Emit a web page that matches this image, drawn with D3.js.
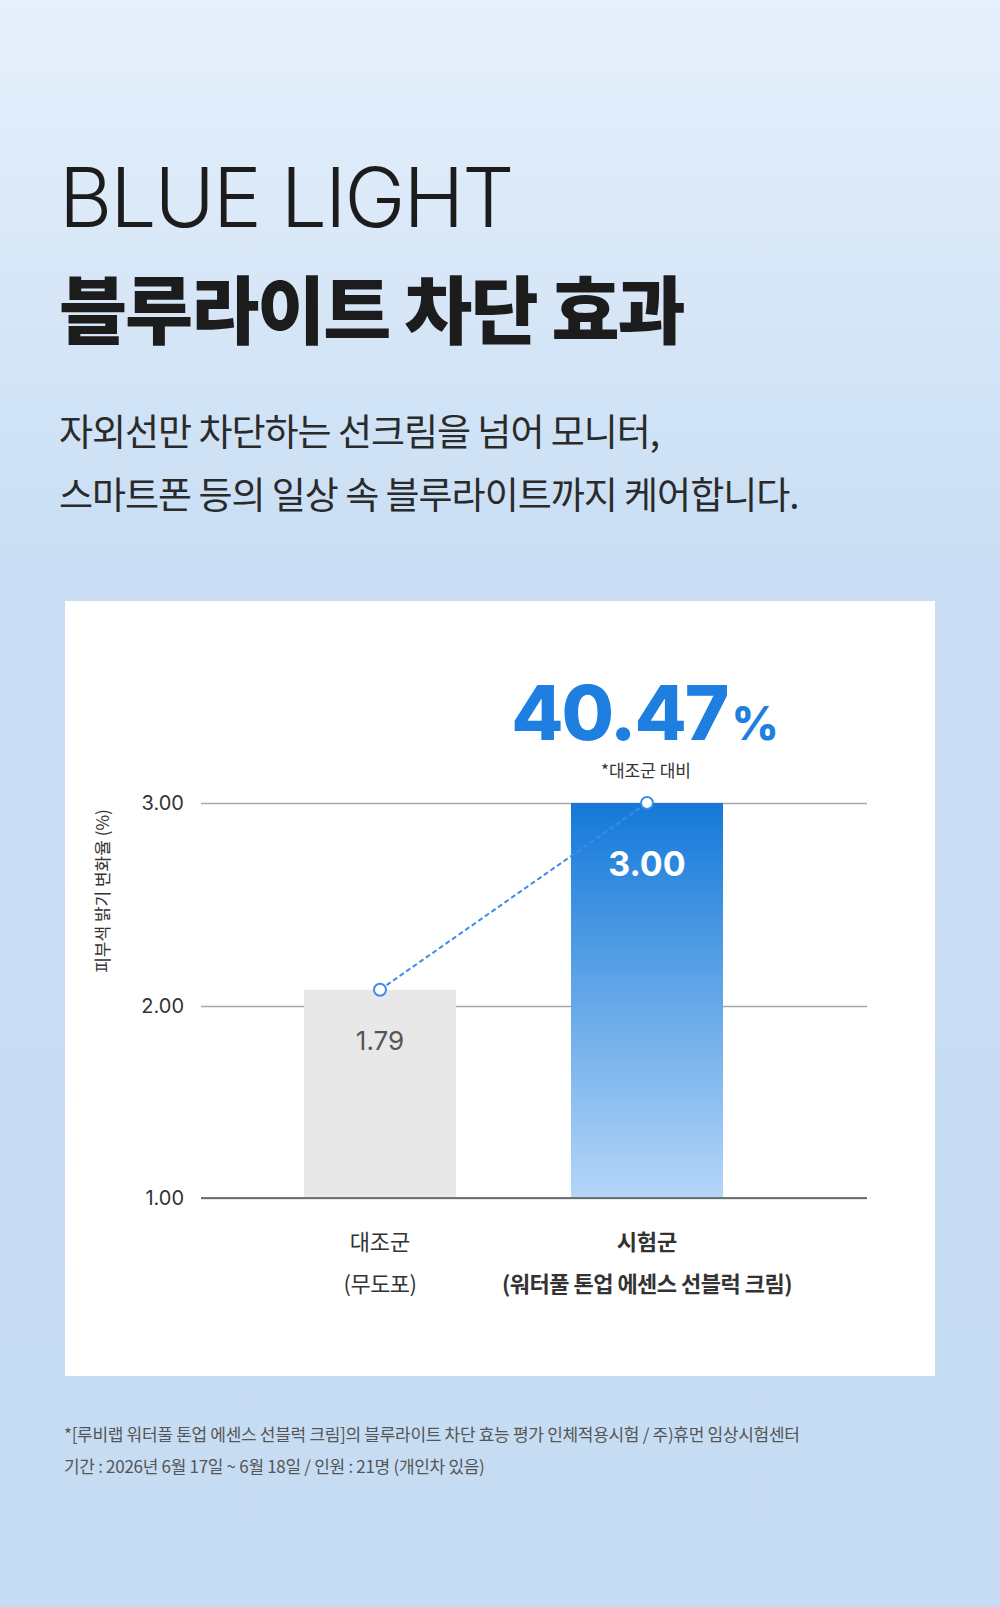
<!DOCTYPE html>
<html><head><meta charset="utf-8">
<script src="https://cdn.jsdelivr.net/npm/d3@7"></script>
<style>body{margin:0;font-family:"Noto Sans CJK KR","Noto Sans",sans-serif;}</style>
</head><body>
<svg id="plotarea"></svg>
<script>
// data
var groups = ["대조군", "시험군"];
var subLabels = ["(무도포)", "(워터풀 톤업 에센스 선블럭 크림)"];
var valueLabels = ["1.79", "3.00"];
var barLevels = [2.08, 3.00];   // bar top as drawn against the axis
var ticks = [1, 2, 3];
var tickY = [1198, 1006, 803];   // axis spacing in the original is uneven

var W = 1000, H = 1607;
var svg = d3.select("#plotarea").attr("width", W).attr("height", H);
var defs = svg.append("defs");
var bg = defs.append("linearGradient").attr("id", "bg").attr("x1", 0).attr("y1", 0).attr("x2", 0).attr("y2", 1);
bg.append("stop").attr("offset", "0").attr("stop-color", "#e6f0fb");
bg.append("stop").attr("offset", "0.35").attr("stop-color", "#c9def4");
bg.append("stop").attr("offset", "1").attr("stop-color", "#c6dcf3");
var bg2 = defs.append("linearGradient").attr("id", "bar").attr("x1", 0).attr("y1", 0).attr("x2", 0).attr("y2", 1);
bg2.append("stop").attr("offset", "0").attr("stop-color", "#1479d9");
bg2.append("stop").attr("offset", "1").attr("stop-color", "#b5d6f8");

svg.append("rect").attr("width", W).attr("height", H).attr("fill", "url(#bg)");

svg.append("text").attr("x", 59).attr("y", 227).attr("font-family", "Inter, sans-serif")
  .attr("font-weight", 300).attr("font-size", 82).attr("fill", "#1c1c1c").attr("letter-spacing", -2).text("BLUE LIGHT");
svg.append("text").attr("x", 59).attr("y", 338).attr("font-weight", 800).attr("font-size", 74)
  .attr("fill", "#1c1c1c").attr("letter-spacing", -2).text("블루라이트 차단 효과");
svg.append("text").attr("x", 59).attr("y", 446).attr("font-size", 37).attr("fill", "#2a2a2a").attr("letter-spacing", -1)
  .text("자외선만 차단하는 선크림을 넘어 모니터,");
svg.append("text").attr("x", 59).attr("y", 509).attr("font-size", 37).attr("fill", "#2a2a2a").attr("letter-spacing", -1)
  .text("스마트폰 등의 일상 속 블루라이트까지 케어합니다.");

svg.append("rect").attr("x", 65).attr("y", 601).attr("width", 870).attr("height", 775).attr("fill", "#fff");

var y = d3.scaleLinear().domain(ticks).range(tickY);
var x = d3.scaleBand().domain(groups).range([245, 782]).paddingInner(0.75).paddingOuter(0);
// band width ~152
x = d3.scaleBand().domain(groups).range([304, 722]).paddingInner(115 / 418 * 2 / (1 + 115 / 418 * 0)).paddingOuter(0);
x = d3.scaleBand().domain(groups).range([304, 722]).paddingInner(0.75);

var axis = d3.axisLeft(y).tickValues(ticks).tickFormat(d3.format(".2f")).tickSize(-666).tickPadding(17);
var ga = svg.append("g").attr("transform", "translate(201,0)").call(axis);
ga.select(".domain").remove();
ga.selectAll(".tick line").attr("stroke", "#a8a8a8").attr("stroke-width", 1.5);
ga.selectAll(".tick text").attr("font-size", 20).attr("fill", "#333").attr("font-family", "Inter, sans-serif");

svg.append("text").attr("transform", "translate(109,891) rotate(-90)").attr("text-anchor", "middle")
  .attr("font-size", 17).attr("fill", "#333").text("피부색 밝기 변화율 (%)");

var bw = 152;
var cx = function(i){ return i === 0 ? 380 : 647; };
svg.selectAll("rect.bar").data(barLevels).enter().append("rect").attr("class", "bar")
  .attr("x", function(d, i){ return cx(i) - bw / 2; }).attr("width", bw)
  .attr("y", function(d){ return y(d); }).attr("height", function(d){ return y(1) - y(d); })
  .attr("fill", function(d, i){ return i === 0 ? "#e8e8e8" : "url(#bar)"; });
// redraw baseline over bars
svg.append("line").attr("x1", 201).attr("x2", 867).attr("y1", y(1)).attr("y2", y(1)).attr("stroke", "#555").attr("stroke-width", 1.5);

svg.selectAll("text.val").data(valueLabels).enter().append("text")
  .attr("x", function(d, i){ return cx(i); })
  .attr("y", function(d, i){ return y(barLevels[i]) + (i === 0 ? 60 : 73); })
  .attr("text-anchor", "middle").attr("font-family", "Inter, sans-serif")
  .attr("font-size", function(d, i){ return i === 0 ? 26 : 34; })
  .attr("font-weight", function(d, i){ return i === 0 ? 400 : 700; })
  .attr("fill", function(d, i){ return i === 0 ? "#555" : "#fff"; }).text(function(d){ return d; });

svg.append("line").attr("x1", cx(0)).attr("y1", y(barLevels[0])).attr("x2", cx(1)).attr("y2", y(barLevels[1]))
  .attr("stroke", "#3a8de6").attr("stroke-width", 2).attr("stroke-dasharray", "5,3");
svg.selectAll("circle.pt").data(barLevels).enter().append("circle")
  .attr("cx", function(d, i){ return cx(i); }).attr("cy", function(d){ return y(d); }).attr("r", 6)
  .attr("fill", "#fff").attr("stroke", "#3a8de6").attr("stroke-width", 2);

var big = svg.append("text").attr("x", 645).attr("y", 740).attr("text-anchor", "middle")
  .attr("font-family", "Inter, sans-serif").attr("font-weight", 800).attr("fill", "#1e7fe0");
big.append("tspan").attr("font-size", 76).attr("letter-spacing", -2).text("40.47");
big.append("tspan").attr("font-size", 46).attr("dx", 4).text("%");
svg.append("text").attr("x", 646).attr("y", 777).attr("text-anchor", "middle").attr("font-size", 17)
  .attr("fill", "#333").text("*대조군 대비");

groups.forEach(function(g, i){
  var w = i === 0 ? 400 : 700;
  svg.append("text").attr("x", cx(i)).attr("y", 1250).attr("text-anchor", "middle").attr("font-size", 22)
    .attr("font-weight", w).attr("fill", "#333").text(g);
  svg.append("text").attr("x", cx(i)).attr("y", 1292).attr("text-anchor", "middle").attr("font-size", 22)
    .attr("font-weight", w).attr("fill", "#333").attr("letter-spacing", -0.5).text(subLabels[i]);
});

svg.append("text").attr("x", 64).attr("y", 1441).attr("font-size", 17).attr("fill", "#555").attr("letter-spacing", -0.3)
  .text("*[루비랩 워터풀 톤업 에센스 선블럭 크림]의 블루라이트 차단 효능 평가 인체적용시험 / 주)휴먼 임상시험센터");
svg.append("text").attr("x", 64).attr("y", 1473).attr("font-size", 17).attr("fill", "#555").attr("letter-spacing", -0.3)
  .text("기간 : 2026년 6월 17일 ~ 6월 18일 / 인원 : 21명 (개인차 있음)");
</script>
</body></html>
